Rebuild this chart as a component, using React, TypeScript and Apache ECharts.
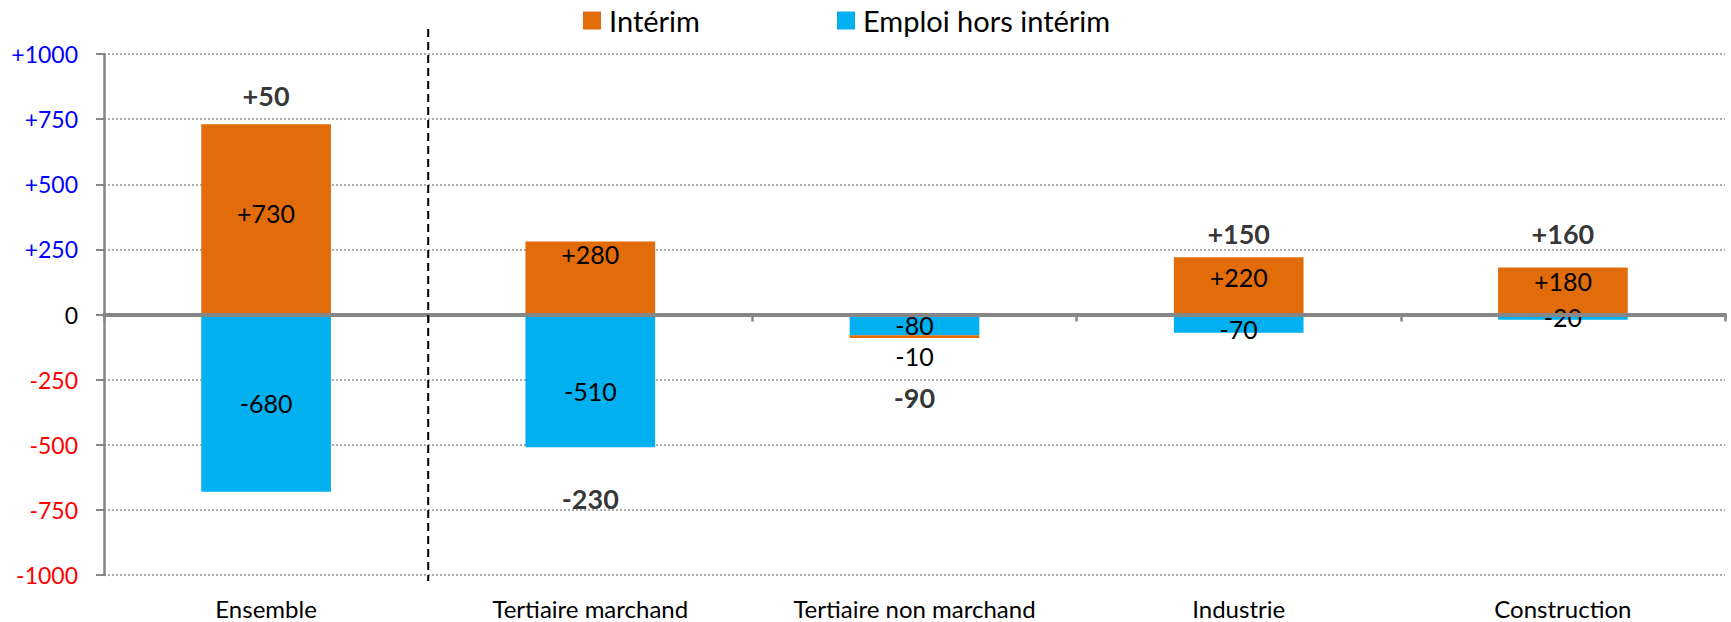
import React, { useEffect, useRef } from 'react';
import * as echarts from 'echarts';

const categories = ['Ensemble', 'Tertiaire marchand', 'Tertiaire non marchand', 'Industrie', 'Construction'];
const interim = [730, 280, -10, 220, 180];
const emploiHorsInterim = [-680, -510, -80, -70, -20];
const soldes = [50, -230, -90, 150, 160];
const soldeLabelAnchors = [842, -708, -319, 312, 312];
const yMin = -1000;
const yMax = 1000;
const yInterval = 250;

const ORANGE = '#E36C0A';
const BLUE = '#00B0F0';
const GREY = '#868686';
const FONT = 'Lato';

const signed = (v: number) => (v > 0 ? `+${v}` : `${v}`);

const interimLabelStyle: any[] = [
  { offset: [0, -6] },
  { position: 'insideTop', distance: 0 },
  { position: 'bottom', distance: 6 },
  { offset: [0, -9] },
  { offset: [0, -10] },
];
const emploiLabelStyle: any[] = [{}, { offset: [0, 10] }, {}, { offset: [0, 5] }, {}];

export default function App() {
  const ref = useRef<HTMLDivElement>(null);
  useEffect(() => {
    if (!ref.current) return;
    const chart = echarts.init(ref.current, undefined, { renderer: 'svg' });
    const labelBase = {
      show: true,
      position: 'inside',
      color: '#000',
      fontFamily: FONT,
      fontSize: 25,
      formatter: (p: any) => signed(p.value),
    };
    const legendText = { fontSize: 29, fontFamily: FONT, color: '#000', padding: [0, 0, 0, 3] };
    chart.setOption({
      animation: false,
      textStyle: { fontFamily: FONT },
      grid: { left: 104, right: 6, top: 54, bottom: 47, containLabel: false },
      legend: [
        {
          data: ['Intérim'],
          left: 583,
          top: 6,
          padding: 0,
          icon: 'rect',
          itemWidth: 18,
          itemHeight: 18,
          textStyle: legendText,
        },
        {
          data: ['Emploi hors intérim'],
          left: 837,
          top: 6,
          padding: 0,
          icon: 'rect',
          itemWidth: 18,
          itemHeight: 18,
          textStyle: legendText,
        },
      ],
      xAxis: [
        {
          type: 'category',
          data: categories,
          z: 5,
          axisLine: { show: true, onZero: true, lineStyle: { color: GREY, width: 4 } },
          axisTick: { show: true, length: 7, lineStyle: { color: GREY, width: 2.5 } },
          axisLabel: { show: false },
          splitLine: { show: false },
        },
        {
          type: 'category',
          data: categories,
          position: 'bottom',
          axisLine: { show: false, onZero: false },
          axisTick: { show: false },
          axisLabel: { show: true, margin: 21, fontSize: 24, color: '#000', fontFamily: FONT },
          splitLine: { show: false },
        },
      ],
      yAxis: {
        type: 'value',
        min: yMin,
        max: yMax,
        interval: yInterval,
        axisLine: { show: true, lineStyle: { color: GREY, width: 2.5 } },
        axisTick: { show: true, length: 8, lineStyle: { color: GREY, width: 2 } },
        axisLabel: {
          margin: 26,
          fontSize: 23,
          fontFamily: FONT,
          formatter: (v: number) => signed(v),
          color: (v: any) => (Number(v) > 0 ? '#0000FF' : Number(v) < 0 ? '#FF0000' : '#000000'),
        },
        splitLine: { show: true, lineStyle: { color: '#8f8f8f', width: 1.5, type: [2, 2] } },
      },
      series: [
        {
          name: 'Emploi hors intérim',
          type: 'bar',
          stack: 'total',
          barWidth: '40%',
          itemStyle: { color: BLUE },
          data: emploiHorsInterim.map((v, i) => ({ value: v, label: emploiLabelStyle[i] })),
          label: labelBase,
        },
        {
          name: 'Intérim',
          type: 'bar',
          stack: 'total',
          barWidth: '40%',
          itemStyle: { color: ORANGE },
          data: interim.map((v, i) => ({ value: v, label: interimLabelStyle[i] })),
          label: labelBase,
        },
        {
          name: 'Solde',
          type: 'scatter',
          silent: true,
          symbol: 'circle',
          symbolSize: 1,
          itemStyle: { color: 'transparent' },
          z: 6,
          data: soldeLabelAnchors.map((v, i) => [i, v]),
          label: {
            show: true,
            position: 'inside',
            color: '#000',
            fontFamily: FONT,
            fontWeight: 'bold',
            fontSize: 27,
            formatter: (p: any) => signed(soldes[p.dataIndex]),
          },
        },
      ],
    });
    const x0 = chart.convertToPixel({ xAxisIndex: 0 }, categories[0]) as number;
    const x1 = chart.convertToPixel({ xAxisIndex: 0 }, categories[1]) as number;
    const xb = (x0 + x1) / 2;
    const yTop = chart.convertToPixel({ yAxisIndex: 0 }, yMax) as number;
    const yBot = chart.convertToPixel({ yAxisIndex: 0 }, yMin) as number;
    chart.setOption({
      graphic: [
        {
          type: 'line',
          z: 10,
          shape: { x1: xb, y1: yTop - 25, x2: xb, y2: yBot + 6 },
          style: { stroke: '#000', lineWidth: 2, lineDash: [8, 5] },
        },
      ],
    });
    return () => chart.dispose();
  }, []);
  return (
    <div
      ref={ref}
      style={{ position: 'absolute', left: 0, top: 0, width: 1731, height: 622, background: '#fff' }}
    />
  );
}
